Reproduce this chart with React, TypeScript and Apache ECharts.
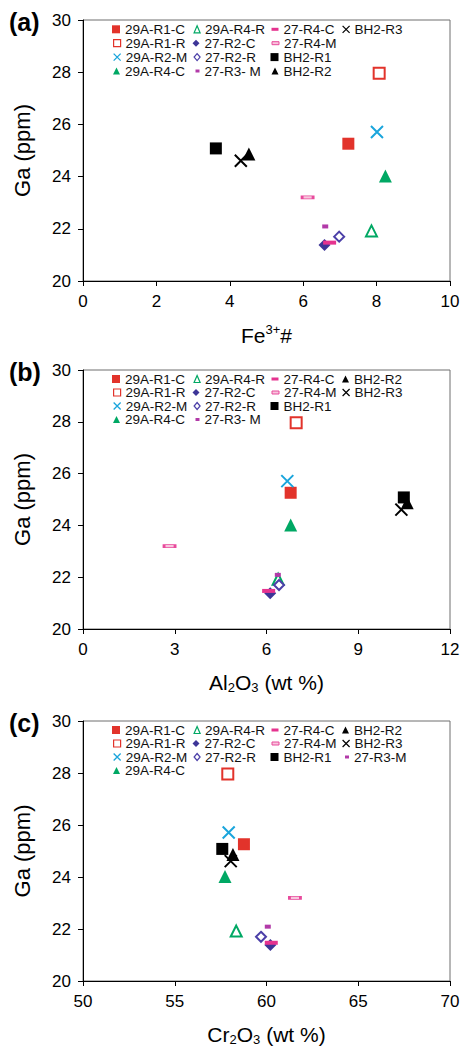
import React, { useEffect, useRef } from 'react';
import * as echarts from 'echarts';

// ---------- data ----------
const sampleNames = [
  '29A-R1-C', '29A-R1-R', '29A-R2-M', '29A-R4-C', '29A-R4-R',
  '27-R2-C', '27-R2-R', '27-R3-M', '27-R4-C', '27-R4-M',
  'BH2-R1', 'BH2-R2', 'BH2-R3',
];
const gaPpm = [25.26, 27.96, 25.71, 24.02, 21.92, 21.38, 21.70, 22.09, 21.47, 23.20, 25.08, 24.87, 24.61];
const fe3Number = [7.23, 8.07, 8.01, 8.24, 7.86, 6.58, 6.98, 6.60, 6.72, 6.12, 3.62, 4.52, 4.30];
const al2o3Wt = [6.79, 6.97, 6.68, 6.79, 6.38, 6.12, 6.41, 6.37, 6.07, 2.83, 10.49, 10.60, 10.41];
const cr2o3Wt = [58.77, 57.89, 57.94, 57.74, 58.35, 60.21, 59.70, 60.07, 60.26, 61.55, 57.59, 58.17, 58.05];

const gaTicks = [20, 22, 24, 26, 28, 30];
const feTicks = [0, 2, 4, 6, 8, 10];
const alTicks = [0, 3, 6, 9, 12];
const crTicks = [50, 55, 60, 65, 70];

const panelLabels = ['(a)', '(b)', '(c)'];

// legend layout: [name, column, row]
const legendLayoutA: [string, number, number][] = [
  ['29A-R1-C', 0, 0], ['29A-R1-R', 0, 1], ['29A-R2-M', 0, 2], ['29A-R4-C', 0, 3],
  ['29A-R4-R', 1, 0], ['27-R2-C', 1, 1], ['27-R2-R', 1, 2], ['27-R3-M', 1, 3],
  ['27-R4-C', 2, 0], ['27-R4-M', 2, 1], ['BH2-R1', 2, 2], ['BH2-R2', 2, 3],
  ['BH2-R3', 3, 0],
];
const legendLayoutB: [string, number, number][] = [
  ['29A-R1-C', 0, 0], ['29A-R1-R', 0, 1], ['29A-R2-M', 0, 2], ['29A-R4-C', 0, 3],
  ['29A-R4-R', 1, 0], ['27-R2-C', 1, 1], ['27-R2-R', 1, 2], ['27-R3-M', 1, 3],
  ['27-R4-C', 2, 0], ['27-R4-M', 2, 1], ['BH2-R1', 2, 2],
  ['BH2-R2', 3, 0], ['BH2-R3', 3, 1],
];
const legendLayoutC: [string, number, number][] = [
  ['29A-R1-C', 0, 0], ['29A-R1-R', 0, 1], ['29A-R2-M', 0, 2], ['29A-R4-C', 0, 3],
  ['29A-R4-R', 1, 0], ['27-R2-C', 1, 1], ['27-R2-R', 1, 2],
  ['27-R4-C', 2, 0], ['27-R4-M', 2, 1], ['BH2-R1', 2, 2],
  ['BH2-R2', 3, 0], ['BH2-R3', 3, 1], ['27-R3-M', 3, 2],
];

// ---------- styles ----------
const FONT = '"Liberation Sans", Arial, sans-serif';
const RED = '#e2332b';
const CYAN = '#1aa5dc';
const GREEN = '#00a864';
const NAVY = '#3d3597';
const NAVY2 = '#4b3fa8';
const PINK = '#e5338f';
const PINK2 = '#e84a9c';
const PALEPINK = '#f8c6dd';
const MAGENTA = '#b23aa8';
const BLACK = '#000000';
const XPATH = 'path://M0,0L10,10M10,0L0,10';

type MS = {
  symbol: string;
  size: number | number[];
  itemStyle: any;
  legIcon: string;
  legW: number;
  legH: number;
  legStyle: any;
};

const styleFor: Record<string, MS> = {
  '29A-R1-C': { symbol: 'rect', size: 12, itemStyle: { color: RED, borderWidth: 0 }, legIcon: 'rect', legW: 8, legH: 8, legStyle: { color: RED, borderWidth: 0 } },
  '29A-R1-R': { symbol: 'rect', size: 11, itemStyle: { color: '#fff', borderColor: RED, borderWidth: 2 }, legIcon: 'rect', legW: 7, legH: 7, legStyle: { color: '#fff', borderColor: RED, borderWidth: 1.2 } },
  '29A-R2-M': { symbol: XPATH, size: 12, itemStyle: { color: CYAN, borderColor: CYAN, borderWidth: 2 }, legIcon: XPATH, legW: 7, legH: 7, legStyle: { color: CYAN, borderColor: CYAN, borderWidth: 1.3 } },
  '29A-R4-C': { symbol: 'triangle', size: 13, itemStyle: { color: GREEN, borderWidth: 0 }, legIcon: 'triangle', legW: 7, legH: 7, legStyle: { color: GREEN, borderWidth: 0 } },
  '29A-R4-R': { symbol: 'triangle', size: 11, itemStyle: { color: '#fff', borderColor: GREEN, borderWidth: 2 }, legIcon: 'triangle', legW: 6, legH: 7, legStyle: { color: '#fff', borderColor: GREEN, borderWidth: 1.2 } },
  '27-R2-C': { symbol: 'diamond', size: 12, itemStyle: { color: NAVY, borderWidth: 0 }, legIcon: 'diamond', legW: 7, legH: 7, legStyle: { color: NAVY, borderWidth: 0 } },
  '27-R2-R': { symbol: 'diamond', size: 10, itemStyle: { color: '#fff', borderColor: NAVY2, borderWidth: 2 }, legIcon: 'diamond', legW: 6, legH: 7, legStyle: { color: '#fff', borderColor: NAVY2, borderWidth: 1.2 } },
  '27-R3-M': { symbol: 'rect', size: [6, 4], itemStyle: { color: MAGENTA, borderWidth: 0 }, legIcon: 'rect', legW: 4, legH: 3, legStyle: { color: MAGENTA, borderWidth: 0 } },
  '27-R4-C': { symbol: 'rect', size: [13, 4], itemStyle: { color: PINK, borderWidth: 0 }, legIcon: 'rect', legW: 7, legH: 3, legStyle: { color: PINK, borderWidth: 0 } },
  '27-R4-M': { symbol: 'rect', size: [11, 3], itemStyle: { color: PALEPINK, borderColor: PINK2, borderWidth: 1.5 }, legIcon: 'rect', legW: 7, legH: 3, legStyle: { color: PALEPINK, borderColor: PINK2, borderWidth: 1 } },
  'BH2-R1': { symbol: 'rect', size: 12, itemStyle: { color: BLACK, borderWidth: 0 }, legIcon: 'rect', legW: 8, legH: 8, legStyle: { color: BLACK, borderWidth: 0 } },
  'BH2-R2': { symbol: 'triangle', size: 13, itemStyle: { color: BLACK, borderWidth: 0 }, legIcon: 'triangle', legW: 7, legH: 7, legStyle: { color: BLACK, borderWidth: 0 } },
  'BH2-R3': { symbol: XPATH, size: 12, itemStyle: { color: BLACK, borderColor: BLACK, borderWidth: 2 }, legIcon: XPATH, legW: 7, legH: 7, legStyle: { color: BLACK, borderColor: BLACK, borderWidth: 1.2 } },
};

// ---------- layout ----------
const GRID_LEFT = 83;
const GRID_RIGHT = 13;
const panels = [
  { top: 20, height: 261, xVals: fe3Number, xTicks: feTicks, xName: '{n|Fe}{sup|3+}{n|#}', nameGap: 42, legend: legendLayoutA, legTop: 29.3, legStep: 13.9, altR3M: true },
  { top: 370, height: 259, xVals: al2o3Wt, xTicks: alTicks, xName: '{n|Al}{sub|2}{n|O}{sub|3}{n| (wt %)}', nameGap: 41, legend: legendLayoutB, legTop: 379, legStep: 13.5, altR3M: true },
  { top: 721, height: 260, xVals: cr2o3Wt, xTicks: crTicks, xName: '{n|Cr}{sub|2}{n|O}{sub|3}{n| (wt %)}', nameGap: 41, legend: legendLayoutC, legTop: 730, legStep: 13.5, altR3M: false },
];
const legendTextX = [125, 204.5, 283.5, 354];

function buildOption() {
  const grid: any[] = [];
  const xAxis: any[] = [];
  const yAxis: any[] = [];
  const series: any[] = [];
  const legend: any[] = [];
  const graphic: any[] = [];

  panels.forEach((p, pi) => {
    grid.push({
      left: GRID_LEFT, right: GRID_RIGHT, top: p.top, height: p.height,
      show: true, borderColor: '#6f6f6f', borderWidth: 1, backgroundColor: 'transparent',
      containLabel: false, outerBoundsMode: 'none',
    });
    const xt = p.xTicks;
    xAxis.push({
      type: 'value', gridIndex: pi,
      min: xt[0], max: xt[xt.length - 1], interval: xt[1] - xt[0],
      axisLine: { show: true, onZero: false, lineStyle: { color: '#000', width: 1 } },
      axisTick: { show: true, inside: false, length: 5, lineStyle: { color: '#000', width: 1 } },
      splitLine: { show: false },
      axisLabel: { show: true, fontSize: 17, color: '#000', fontFamily: FONT, margin: 12 },
      name: p.xName, nameLocation: 'middle', nameGap: p.nameGap,
      nameTextStyle: {
        fontFamily: FONT, color: '#000', fontSize: 21,
        rich: {
          n: { fontSize: 21, lineHeight: 24, fontFamily: FONT, color: '#000' },
          sup: { fontSize: 13, lineHeight: 14, verticalAlign: 'top', fontFamily: FONT, color: '#000' },
          sub: { fontSize: 13, lineHeight: 12, verticalAlign: 'bottom', fontFamily: FONT, color: '#000' },
        },
      },
    });
    yAxis.push({
      type: 'value', gridIndex: pi,
      min: gaTicks[0], max: gaTicks[gaTicks.length - 1], interval: gaTicks[1] - gaTicks[0],
      axisLine: { show: true, onZero: false, lineStyle: { color: '#000', width: 1 } },
      axisTick: { show: true, inside: false, length: 5, lineStyle: { color: '#000', width: 1 } },
      splitLine: { show: false },
      axisLabel: { show: true, fontSize: 17, color: '#000', fontFamily: FONT, margin: 12 },
      name: 'Ga (ppm)', nameLocation: 'middle', nameGap: 50, nameRotate: 90,
      nameTextStyle: { fontFamily: FONT, color: '#000', fontSize: 22 },
    });

    sampleNames.forEach((name, i) => {
      const s = styleFor[name];
      series.push({
        type: 'scatter', name, xAxisIndex: pi, yAxisIndex: pi,
        data: [[p.xVals[i], gaPpm[i]]],
        symbol: s.symbol, symbolSize: s.size,
        itemStyle: { ...s.itemStyle, opacity: 1 },
        emphasis: { disabled: true },
        silent: true,
      });
    });

    p.legend.forEach(([name, col, row]) => {
      const s = styleFor[name];
      const display = name === '27-R3-M' && p.altR3M ? '27-R3- M' : name;
      legend.push({
        show: true, selectedMode: false, orient: 'horizontal',
        left: legendTextX[col] - 5 - s.legW,
        top: p.legTop + row * p.legStep - 7,
        padding: 0, itemGap: 0, itemWidth: s.legW, itemHeight: s.legH,
        symbolKeepAspect: false,
        icon: s.legIcon,
        itemStyle: s.legStyle,
        data: [{ name, icon: s.legIcon, itemStyle: s.legStyle }],
        formatter: () => display,
        textStyle: { fontSize: 13.5, color: '#111', fontFamily: FONT, lineHeight: 14 },
      });
    });

    graphic.push({
      type: 'text', left: 9, top: p.top - 11,
      style: { text: panelLabels[pi], font: `bold 25px ${FONT}`, fill: '#000' },
    });
  });

  return {
    animation: false,
    backgroundColor: '#fff',
    grid, xAxis, yAxis, series, legend, graphic,
  };
}

export default function App() {
  const ref = useRef<HTMLDivElement>(null);
  useEffect(() => {
    if (!ref.current) return;
    const chart = echarts.init(ref.current, undefined, { renderer: 'svg' });
    chart.setOption(buildOption());
    return () => chart.dispose();
  }, []);
  return (
    <div
      ref={ref}
      style={{ position: 'absolute', left: 0, top: 0, width: 463, height: 1051, background: '#fff' }}
    />
  );
}
